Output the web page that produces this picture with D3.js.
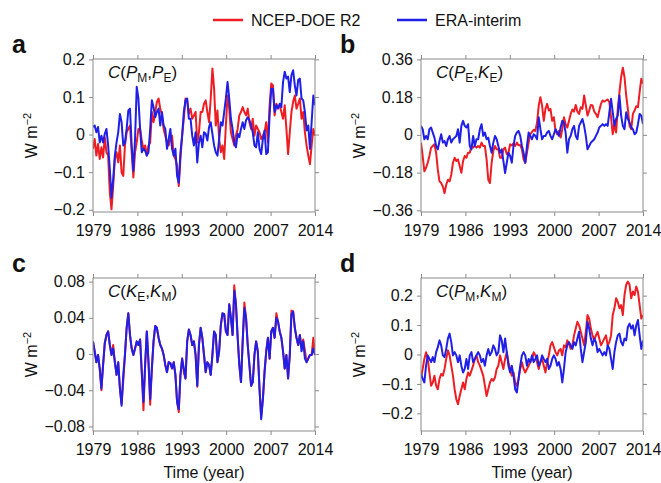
<!DOCTYPE html>
<html>
<head>
<meta charset="utf-8">
<script src="https://cdn.jsdelivr.net/npm/d3@7"></script>
<style>
  body { margin: 0; background: #fff; }
  text { font-family: "Liberation Sans", Arial, sans-serif; fill: #111; }
</style>
</head>
<body>
<svg id="chart" width="661" height="483"></svg>
<script>
// time axis: one value every ~3 months, 1979 to 2014
const startYear = 1979, endYear = 2014;
const yearTicks = [1979, 1986, 1993, 2000, 2007, 2014];
const seriesNames = ["NCEP-DOE R2", "ERA-interim"];

// panel a  C(PM,PE)
const ncepA = [-0.038,-0.012,-0.056,-0.025,-0.065,-0.034,-0.061,-0.007,-0.047,-0.056,-0.154,-0.199,-0.137,-0.065,-0.047,-0.074,-0.029,-0.101,-0.110,-0.029,
  0.006,0.015,0.024,-0.047,-0.114,-0.047,-0.021,0.015,0.015,-0.016,-0.038,-0.029,-0.056,-0.029,-0.021,0.060,0.033,0.060,0.087,0.096,
  0.069,0.051,0.015,-0.003,-0.021,-0.029,-0.012,-0.003,-0.056,-0.065,-0.083,-0.137,-0.065,-0.003,0.042,0.096,0.091,0.055,0.069,0.042,
  0.051,0.060,-0.021,0.006,0.060,0.060,0.082,0.091,0.060,0.033,0.096,0.176,0.122,0.024,0.064,-0.012,-0.047,-0.029,-0.065,0.024,
  0.104,0.069,0.006,-0.012,-0.029,-0.003,0.015,0.051,0.060,0.073,0.060,0.051,0.069,0.033,0.015,0.042,-0.003,0.024,0.015,0.006,
  -0.012,-0.003,0.006,0.033,-0.021,0.078,0.136,0.131,0.051,0.082,0.073,0.078,0.060,0.042,0.078,0.015,-0.052,0.006,0.060,0.087,
  0.104,0.069,0.082,0.096,0.042,0.060,0.006,-0.029,-0.056,-0.079,-0.029,0.015,-0.003];
const eraA = [0.020,0.024,0.006,0.020,-0.021,-0.003,-0.021,0.002,0.015,-0.029,-0.092,-0.168,-0.119,-0.056,-0.021,0.006,0.055,0.033,-0.029,-0.021,
  0.015,0.064,0.069,-0.029,-0.096,-0.012,0.127,0.096,0.015,-0.047,-0.038,-0.043,-0.056,-0.047,0.015,0.091,0.073,0.046,0.060,0.069,
  0.024,0.060,0.024,0.015,-0.038,-0.012,0.015,-0.038,-0.056,-0.038,-0.110,-0.128,-0.047,-0.003,0.060,0.091,0.096,0.042,0.042,-0.003,
  -0.029,0.006,-0.074,-0.021,-0.003,-0.034,0.006,0.002,-0.016,0.020,0.033,0.002,-0.029,-0.047,-0.056,-0.012,0.033,0.024,0.060,0.096,
  0.140,0.096,0.042,0.015,-0.021,-0.034,0.002,-0.007,0.015,0.033,0.015,0.038,0.046,0.038,0.024,0.006,-0.029,-0.034,0.006,-0.038,
  -0.052,-0.012,0.011,-0.052,-0.047,0.051,0.122,0.122,0.060,0.078,0.069,0.082,0.073,0.140,0.167,0.149,0.154,0.113,0.158,0.171,
  0.131,0.104,0.145,0.149,0.096,0.091,0.060,0.011,0.024,-0.038,0.033,0.104,0.078];

// panel b  C(PE,KE)
const ncepB = [-0.037,-0.101,-0.174,-0.157,-0.133,-0.101,-0.061,-0.053,-0.045,-0.085,-0.166,-0.222,-0.230,-0.246,-0.278,-0.238,-0.214,-0.222,-0.190,-0.133,
  -0.109,-0.125,-0.117,-0.149,-0.181,-0.125,-0.101,-0.109,-0.085,-0.085,-0.053,-0.061,-0.053,-0.061,-0.053,-0.061,-0.037,-0.053,-0.053,-0.117,
  -0.214,-0.230,-0.133,-0.077,-0.053,-0.069,-0.069,-0.109,-0.109,-0.069,-0.061,-0.093,-0.085,-0.045,-0.050,-0.040,-0.053,-0.037,-0.050,-0.048,
  -0.069,-0.117,-0.133,-0.085,-0.037,0.003,0.014,0.024,0.019,0.059,0.140,0.180,0.140,0.067,0.124,0.148,0.116,0.124,0.067,0.084,
  0.019,0.003,0.019,-0.013,0.027,0.084,0.051,0.035,0.067,0.100,0.121,0.111,0.143,0.111,0.100,0.132,0.124,0.188,0.140,0.092,
  0.116,0.143,0.140,0.111,0.100,0.084,0.116,0.148,0.164,0.159,0.164,0.169,0.156,0.084,0.003,0.051,0.011,0.124,0.204,0.276,
  0.320,0.276,0.188,0.124,0.043,0.027,0.100,0.116,0.137,0.132,0.204,0.268,0.244];
const eraB = [0.043,0.027,-0.021,-0.005,-0.021,0.027,0.035,0.011,-0.013,-0.053,-0.069,-0.029,0.003,-0.037,-0.029,-0.053,-0.021,-0.005,-0.037,-0.021,
  -0.013,-0.005,0.027,-0.037,0.043,0.067,0.043,0.035,0.051,-0.053,-0.069,-0.005,-0.053,-0.021,-0.021,0.027,0.051,-0.005,0.011,-0.021,
  -0.013,-0.053,-0.085,-0.037,-0.005,-0.021,-0.053,-0.085,-0.069,-0.125,-0.182,-0.133,-0.085,-0.101,-0.133,-0.053,-0.005,0.011,0.019,-0.005,
  -0.053,-0.085,-0.133,-0.053,0.011,-0.005,-0.021,0.003,-0.005,-0.021,0.084,0.027,-0.021,-0.005,-0.005,0.011,0.019,-0.005,-0.021,0.003,
  0.027,0.011,-0.005,0.035,0.067,0.059,0.011,-0.085,-0.021,-0.005,0.027,0.043,-0.005,-0.021,0.043,0.059,0.076,0.043,-0.005,-0.069,
  -0.053,-0.037,-0.029,-0.021,-0.005,0.011,0.035,0.043,0.051,0.043,0.051,0.043,0.108,0.172,0.108,0.043,0.076,0.092,0.188,0.092,
  0.043,0.027,0.108,0.076,0.059,0.035,0.027,0.003,0.011,0.051,0.100,0.092,0.051];

// panel c  C(KE,KM)
const ncepC = [0.014,0.003,-0.009,-0.001,-0.016,-0.040,-0.012,0.012,0.021,0.025,0.010,-0.001,0.010,-0.009,-0.023,-0.009,-0.038,-0.055,-0.030,-0.001,
  0.029,0.045,0.021,0.006,-0.001,0.006,0.014,0.010,0.016,-0.020,-0.062,-0.012,0.025,-0.009,-0.056,-0.016,0.014,0.031,0.029,0.018,
  0.010,0.006,-0.001,-0.012,-0.020,-0.009,-0.010,-0.016,-0.009,-0.023,-0.053,-0.064,-0.023,-0.005,-0.020,-0.027,0.014,0.027,0.021,0.010,
  0.014,-0.001,-0.036,0.010,0.029,0.018,-0.001,-0.020,-0.009,-0.012,-0.023,-0.001,0.025,0.021,-0.009,0.003,0.032,0.045,0.044,0.025,
  0.021,0.055,0.040,0.021,0.076,0.055,0.020,-0.012,-0.031,0.014,0.057,0.040,0.010,-0.012,-0.035,-0.031,-0.001,0.014,0.003,-0.038,
  -0.069,-0.050,-0.020,0.003,0.018,-0.005,0.025,0.029,0.018,0.045,0.036,0.025,0.018,0.003,-0.016,-0.001,-0.027,-0.001,0.048,0.047,
  0.029,0.018,0.010,0.021,0.008,0.016,0.004,-0.009,-0.005,-0.001,-0.001,0.018,-0.001];
const eraC = [0.014,0.003,-0.009,-0.001,-0.016,-0.038,-0.012,0.012,0.021,0.025,0.010,-0.001,0.006,-0.009,-0.023,-0.009,-0.038,-0.057,-0.023,-0.001,
  0.029,0.045,0.021,0.006,-0.001,0.006,0.014,0.010,0.016,-0.020,-0.053,-0.012,0.025,-0.009,-0.050,-0.016,0.014,0.031,0.029,0.018,
  0.010,0.006,-0.001,-0.012,-0.020,-0.009,-0.010,-0.016,-0.009,-0.023,-0.053,-0.061,-0.023,-0.005,-0.016,-0.027,0.014,0.027,0.021,0.010,
  0.014,-0.001,-0.035,0.010,0.029,0.018,-0.001,-0.020,-0.009,-0.012,-0.023,-0.001,0.025,0.021,-0.009,0.003,0.032,0.045,0.044,0.025,
  0.021,0.055,0.040,0.021,0.070,0.055,0.018,-0.012,-0.031,0.014,0.051,0.040,0.010,-0.012,-0.035,-0.031,-0.001,0.014,0.003,-0.038,
  -0.072,-0.050,-0.020,0.003,0.018,-0.005,0.025,0.029,0.018,0.040,0.036,0.025,0.018,0.003,-0.016,-0.001,-0.027,-0.001,0.044,0.047,
  0.029,0.018,0.010,0.021,0.003,0.014,-0.005,-0.009,-0.005,-0.001,-0.001,0.006,-0.001];

// panel d  C(PM,KM)
const ncepD = [-0.078,-0.049,-0.015,0.008,-0.015,-0.061,-0.106,-0.095,-0.072,-0.106,-0.118,-0.083,-0.066,-0.072,-0.049,-0.015,0.014,-0.003,-0.038,-0.072,
  -0.118,-0.152,-0.169,-0.141,-0.118,-0.095,-0.118,-0.083,-0.061,-0.072,-0.055,-0.038,-0.015,-0.003,-0.026,-0.038,-0.055,-0.072,-0.106,-0.141,
  -0.118,-0.095,-0.083,-0.089,-0.078,-0.049,-0.038,-0.003,-0.026,-0.049,-0.015,0.008,-0.026,-0.049,-0.072,-0.061,-0.095,-0.106,-0.083,-0.049,
  -0.026,-0.049,-0.061,-0.049,-0.038,-0.026,-0.015,0.008,-0.003,-0.026,-0.049,-0.026,-0.015,-0.038,-0.061,-0.026,-0.003,0.031,0.042,0.025,
  0.008,-0.003,0.014,0.019,-0.003,0.031,0.025,0.048,0.037,0.019,0.031,0.065,0.088,0.111,0.099,0.077,0.054,0.031,0.077,0.134,
  0.122,0.088,0.065,0.048,0.065,0.077,0.054,0.031,0.042,0.054,0.065,0.031,0.042,0.065,0.134,0.157,0.191,0.179,0.157,0.168,
  0.134,0.202,0.237,0.248,0.237,0.191,0.214,0.202,0.231,0.214,0.168,0.122,0.134];
const eraD = [-0.066,-0.083,-0.095,-0.038,-0.003,-0.015,-0.026,-0.009,-0.026,0.008,0.025,0.048,0.031,-0.003,-0.009,0.019,0.054,0.071,0.042,-0.003,
  0.008,-0.003,-0.026,-0.003,-0.038,-0.061,-0.049,-0.015,-0.049,-0.003,0.008,-0.026,-0.015,-0.003,0.008,-0.003,-0.026,-0.015,-0.038,-0.003,
  0.019,-0.003,0.008,0.031,0.019,-0.003,0.008,0.065,0.048,0.008,0.054,0.008,-0.038,-0.061,-0.038,-0.072,-0.118,-0.129,-0.083,-0.038,
  -0.003,0.008,-0.003,-0.038,-0.015,-0.026,-0.003,-0.026,-0.015,-0.003,-0.038,-0.026,-0.003,-0.015,-0.026,-0.015,-0.049,-0.038,-0.015,-0.003,
  -0.015,-0.038,-0.026,-0.049,-0.095,-0.049,0.008,0.031,0.042,0.031,0.019,0.042,0.031,0.054,0.077,0.019,-0.026,0.008,0.042,0.111,
  0.088,0.054,0.031,0.054,0.042,0.008,0.019,0.008,-0.003,0.008,-0.003,0.031,0.019,-0.015,-0.049,0.008,0.042,0.065,0.071,0.042,
  0.031,0.054,0.048,0.094,0.105,0.088,0.099,0.065,0.099,0.117,0.065,0.019,0.048];

const ticksA = [-0.2, -0.1, 0, 0.1, 0.2], labelsA = ["\u22120.2", "\u22120.1", "0", "0.1", "0.2"];
const ticksB = [-0.36, -0.18, 0, 0.18, 0.36], labelsB = ["\u22120.36", "\u22120.18", "0", "0.18", "0.36"];
const ticksC = [-0.08, -0.04, 0, 0.04, 0.08], labelsC = ["\u22120.08", "\u22120.04", "0", "0.04", "0.08"];
const ticksD = [-0.2, -0.1, 0, 0.1, 0.2], labelsD = ["\u22120.2", "\u22120.1", "0", "0.1", "0.2"];

const colors = ["#ee1d23", "#1f1fe8"];
const gray = "#8a8a8a";

const panels = [
  {letter: "a", col: 0, row: 0, data: [ncepA, eraA], ticks: ticksA, labels: labelsA, domain: [-0.206, 0.201], sym: [["P","M"],["P","E"]]},
  {letter: "b", col: 1, row: 0, data: [ncepB, eraB], ticks: ticksB, labels: labelsB, domain: [-0.368, 0.362], sym: [["P","E"],["K","E"]]},
  {letter: "c", col: 0, row: 1, data: [ncepC, eraC], ticks: ticksC, labels: labelsC, domain: [-0.085, 0.084], sym: [["K","E"],["K","M"]]},
  {letter: "d", col: 1, row: 1, data: [ncepD, eraD], ticks: ticksD, labels: labelsD, domain: [-0.26, 0.26], sym: [["P","M"],["K","M"]]}
];

const colX = [93, 421], rowY = [59, 278];
const pw = 222, ph = 153;

const svg = d3.select("#chart");
svg.append("rect").attr("width", 661).attr("height", 483).attr("fill", "#fff");

// legend
const legend = svg.append("g");
const legX = [213, 397];
seriesNames.forEach(function(name, i) {
  legend.append("line")
    .attr("x1", legX[i]).attr("x2", legX[i] + 30)
    .attr("y1", 20).attr("y2", 20)
    .attr("stroke", colors[i]).attr("stroke-width", 2.5);
  legend.append("text")
    .attr("x", legX[i] + 38).attr("y", 26)
    .attr("font-size", 16)
    .text(name);
});

panels.forEach(function(p) {
  const x0 = colX[p.col], y0 = rowY[p.row];
  const g = svg.append("g").attr("transform", "translate(" + x0 + "," + y0 + ")");

  const x = d3.scaleLinear().domain([startYear, endYear]).range([0, pw]);
  const y = d3.scaleLinear().domain(p.domain).range([ph, 0]);

  const clipId = "clip-" + p.letter;
  g.append("clipPath").attr("id", clipId)
    .append("rect").attr("width", pw).attr("height", ph);

  // lines, NCEP first then ERA on top
  p.data.forEach(function(vals, si) {
    const n = vals.length;
    const line = d3.line()
      .x(function(d, i) { return x(startYear + i * (endYear - startYear) / (n - 1)); })
      .y(function(d) { return y(d); });
    g.append("path")
      .datum(vals)
      .attr("clip-path", "url(#" + clipId + ")")
      .attr("fill", "none")
      .attr("stroke", colors[si])
      .attr("stroke-width", 2)
      .attr("stroke-linejoin", "round")
      .attr("d", line);
  });

  // axes on all four sides, ticks outward
  const left = g.append("g")
    .call(d3.axisLeft(y).tickValues(p.ticks).tickFormat(function(d, i) { return p.labels[i]; })
      .tickSize(4).tickSizeOuter(0).tickPadding(4));
  const right = g.append("g").attr("transform", "translate(" + pw + ",0)")
    .call(d3.axisRight(y).tickValues(p.ticks).tickFormat("").tickSize(4).tickSizeOuter(0));
  const bottom = g.append("g").attr("transform", "translate(0," + ph + ")")
    .call(d3.axisBottom(x).tickValues(yearTicks).tickFormat(d3.format("d"))
      .tickSize(4).tickSizeOuter(0).tickPadding(9));
  const top = g.append("g")
    .call(d3.axisTop(x).tickValues(yearTicks).tickFormat("").tickSize(4).tickSizeOuter(0));

  [left, right, bottom, top].forEach(function(ax) {
    ax.select(".domain").remove();
    ax.selectAll(".tick line").attr("stroke", gray);
    ax.selectAll(".tick text")
      .attr("font-family", "'Liberation Sans', Arial, sans-serif")
      .attr("font-size", 16).attr("fill", "#111");
  });

  g.append("rect")
    .attr("width", pw).attr("height", ph)
    .attr("fill", "none").attr("stroke", gray).attr("stroke-width", 1);

  // panel title C(X,Y)
  const t = g.append("text").attr("x", 15).attr("y", 19).attr("font-size", 17);
  t.append("tspan").attr("font-style", "italic").text("C");
  t.append("tspan").text("(");
  p.sym.forEach(function(s, k) {
    if (k > 0) t.append("tspan").attr("dy", -4).text(",");
    t.append("tspan").attr("font-style", "italic").text(s[0]);
    t.append("tspan").attr("font-size", 12).attr("dy", 4).text(s[1]);
  });
  t.append("tspan").attr("dy", -4).text(")");

  // y axis title
  const yt = g.append("text")
    .attr("transform", "translate(" + (-56) + "," + (ph / 2) + ") rotate(-90)")
    .attr("text-anchor", "middle").attr("font-size", 16);
  yt.append("tspan").text("W m");
  yt.append("tspan").attr("dy", -6).attr("font-size", 11).text("\u22122");

  // panel letter
  svg.append("text")
    .attr("x", x0 - 81).attr("y", y0 - 6)
    .attr("font-size", 25).attr("font-weight", "bold")
    .text(p.letter);

  if (p.row === 1) {
    svg.append("text")
      .attr("x", x0 + pw / 2).attr("y", y0 + ph + 47)
      .attr("text-anchor", "middle").attr("font-size", 16)
      .text("Time (year)");
  }
});
</script>
</body>
</html>
